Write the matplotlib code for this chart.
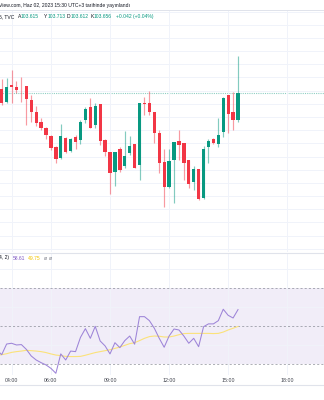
import pandas as pd
import matplotlib
matplotlib.use("Agg")
import matplotlib.pyplot as plt
import matplotlib.dates as mdates
from matplotlib.lines import Line2D

plt.rcParams['font.family'] = ['Liberation Sans', 'DejaVu Sans']

# DXY 15 minute candles, 2 June 2023
times = pd.date_range("2023-06-02 03:30", periods=49, freq="15min")
opens = [103.663, 103.643, 103.668, 103.665, 103.663, 103.667, 103.646, 103.628, 103.612, 103.604,
         103.591, 103.574, 103.557, 103.588, 103.569, 103.589, 103.585, 103.616, 103.635, 103.608,
         103.640, 103.585, 103.567, 103.537, 103.571, 103.545, 103.565, 103.579, 103.547, 103.642,
         103.642, 103.628, 103.595, 103.552, 103.514, 103.555, 103.584, 103.581, 103.555, 103.522,
         103.541, 103.497, 103.575, 103.587, 103.579, 103.597, 103.653, 103.628, 103.615]
highs = [103.677, 103.679, 103.691, 103.675, 103.680, 103.667, 103.653, 103.636, 103.618, 103.605,
         103.593, 103.576, 103.609, 103.589, 103.588, 103.593, 103.615, 103.635, 103.649, 103.641,
         103.640, 103.586, 103.567, 103.567, 103.574, 103.599, 103.591, 103.579, 103.642, 103.651,
         103.659, 103.628, 103.600, 103.571, 103.571, 103.582, 103.600, 103.581, 103.555, 103.545,
         103.541, 103.576, 103.586, 103.588, 103.618, 103.650, 103.653, 103.658, 103.713]
lows = [103.638, 103.642, 103.641, 103.656, 103.643, 103.608, 103.613, 103.606, 103.601, 103.586,
        103.570, 103.550, 103.556, 103.565, 103.567, 103.571, 103.579, 103.611, 103.603, 103.603,
        103.578, 103.561, 103.503, 103.515, 103.537, 103.542, 103.562, 103.542, 103.525, 103.623,
        103.623, 103.581, 103.535, 103.484, 103.512, 103.489, 103.555, 103.525, 103.512, 103.509,
        103.494, 103.496, 103.550, 103.579, 103.575, 103.590, 103.595, 103.600, 103.612]
closes = [103.641, 103.665, 103.666, 103.661, 103.662, 103.647, 103.627, 103.611, 103.603, 103.593,
          103.573, 103.556, 103.591, 103.567, 103.586, 103.582, 103.613, 103.632, 103.604, 103.636,
          103.584, 103.567, 103.535, 103.567, 103.540, 103.561, 103.576, 103.543, 103.642, 103.639,
          103.627, 103.595, 103.550, 103.513, 103.553, 103.582, 103.578, 103.550, 103.519, 103.541,
          103.495, 103.571, 103.584, 103.580, 103.593, 103.649, 103.625, 103.615, 103.656]

# RSI (14) and its moving average, one bar earlier than the candles
rsi_times = pd.date_range("2023-06-02 03:15", periods=50, freq="15min")
rsi = [37.4, 34.9, 40.5, 40.9, 40.0, 40.2, 37.7, 34.2, 32.1, 30.7,
       29.5, 27.7, 25.1, 35.3, 32.1, 36.8, 36.5, 44.0, 48.6, 43.5,
       49.8, 42.1, 39.5, 35.3, 41.2, 38.6, 42.3, 44.7, 40.4, 54.9,
       54.9, 52.8, 48.8, 43.5, 38.8, 44.7, 48.4, 47.9, 44.7, 40.9,
       43.5, 39.1, 49.6, 51.1, 51.1, 52.8, 58.8, 55.6, 54.2, 58.61]
rsi_ma = [34.6, 34.9, 35.4, 36.1, 36.5, 36.8, 37.2, 37.0, 36.8, 36.5,
          36.0, 35.3, 34.7, 34.4, 34.0, 33.9, 33.9, 34.0, 34.6, 35.3,
          36.0, 36.5, 37.0, 37.5, 38.2, 38.9, 39.8, 40.7, 41.2, 42.3,
          43.5, 44.4, 44.7, 44.6, 44.2, 44.2, 44.7, 45.4, 46.0, 46.1,
          46.1, 46.1, 46.1, 46.1, 46.0, 46.1, 46.8, 47.9, 48.8, 49.75]

tick_times = pd.to_datetime(["2023-06-02 04:00", "2023-06-02 06:00", "2023-06-02 09:00",
                             "2023-06-02 12:00", "2023-06-02 15:00", "2023-06-02 18:00"])
tick_labels = ["04:00", "06:00", "09:00", "12:00", "15:00", "18:00"]

UP = "#089981"
DOWN = "#F23645"
GRID = "#f0f3fa"
BORDER = "#e0e3eb"
TEXT = "#131722"

x = mdates.date2num(times)
xr = mdates.date2num(rsi_times)
xt = mdates.date2num(tick_times)
bar_w = 0.67 / 96
x_left = mdates.date2num(pd.Timestamp("2023-06-02 03:24:48"))
x_right = mdates.date2num(pd.Timestamp("2023-06-02 19:52"))

fig = plt.figure(figsize=(3.24, 4.0), dpi=100)
ax = fig.add_axes([0, 0.37, 1, 0.605])
ax_rsi = fig.add_axes([0, 0.0625, 1, 0.305])

# candles
for xi, o, h, l, c in zip(x, opens, highs, lows, closes):
    col = UP if c >= o else DOWN
    ax.vlines(xi, l, h, color=col, alpha=0.5, lw=0.85, zorder=2)
    ax.bar(xi, max(abs(c - o), 0.0012), bottom=min(o, c), width=bar_w,
           color=col, linewidth=0, zorder=3)

ax.axhline(closes[-1], color="#8fcfc3", lw=0.8, ls=(0, (1, 1)), zorder=1)
ax.set_xlim(x_left, x_right)
ax.set_ylim(103.415, 103.7825)
ax.set_yticks([103.42 + 0.02 * k for k in range(19)])
ax.set_xticks(xt)
ax.grid(True, color=GRID, lw=0.7)
ax.tick_params(left=False, bottom=False, labelleft=False, labelbottom=False)
for side in ["left", "right", "bottom"]:
    ax.spines[side].set_visible(False)
ax.spines["top"].set_color(BORDER)
ax.spines["top"].set_linewidth(0.7)

# RSI pane
ax_rsi.axhspan(30, 70, color="#7e57c2", alpha=0.1, lw=0)
for lvl in [70, 50, 30]:
    ax_rsi.axhline(lvl, color="#787b86", lw=0.6, ls=(0, (2.5, 2.5)), alpha=0.7)
ax_rsi.plot(xr, rsi_ma, color="#fbe27a", lw=0.8, zorder=3)
ax_rsi.plot(xr, rsi, color="#9d84d8", lw=0.75, zorder=4)
ax_rsi.set_xlim(x_left, x_right)
ax_rsi.set_ylim(24.2, 88.4)
ax_rsi.set_yticks([40, 60, 80])
ax_rsi.set_xticks(xt)
ax_rsi.set_xticklabels(tick_labels)
ax_rsi.grid(True, color=GRID, lw=0.7)
ax_rsi.tick_params(left=False, labelleft=False, length=0, pad=2.2,
                   labelsize=3.8, labelcolor="#3f424c")
for side in ["left", "right", "bottom"]:
    ax_rsi.spines[side].set_visible(False)
ax_rsi.spines["top"].set_color(BORDER)
ax_rsi.spines["top"].set_linewidth(0.8)

fig.add_artist(Line2D([0, 1], [1 - 385 / 400, 1 - 385 / 400], color=BORDER, lw=0.8))


def px_text(px, py, s, color=TEXT, size=3.65):
    fig.text(px / 324, 1 - py / 400, s, color=color, fontsize=size, ha="left", va="center")


px_text(-1, 6, "View.com, Haz 02, 2023 15:30 UTC+3 tarihinde yayınlandı")
px_text(-1, 16.7, "5, TVC")
px_text(18, 16.7, "A")
px_text(20.7, 16.7, "103.615", UP)
px_text(43.7, 16.7, "Y")
px_text(47.3, 16.7, "103.713", UP)
px_text(66.8, 16.7, "D")
px_text(70.3, 16.7, "103.612", UP)
px_text(90.3, 16.7, "K")
px_text(94, 16.7, "103.656", UP)
px_text(115.7, 16.7, "+0.042 (+0.04%)", UP)

px_text(-1, 258, "4, 2)")
px_text(13, 258, "58.61", "#7e57c2")
px_text(28, 258, "49.75", "#f2c500")
px_text(44, 258, "ø", "#787b86")
px_text(48.5, 258, "ø", "#787b86")

fig.savefig("out.png", dpi=100, facecolor="white")
